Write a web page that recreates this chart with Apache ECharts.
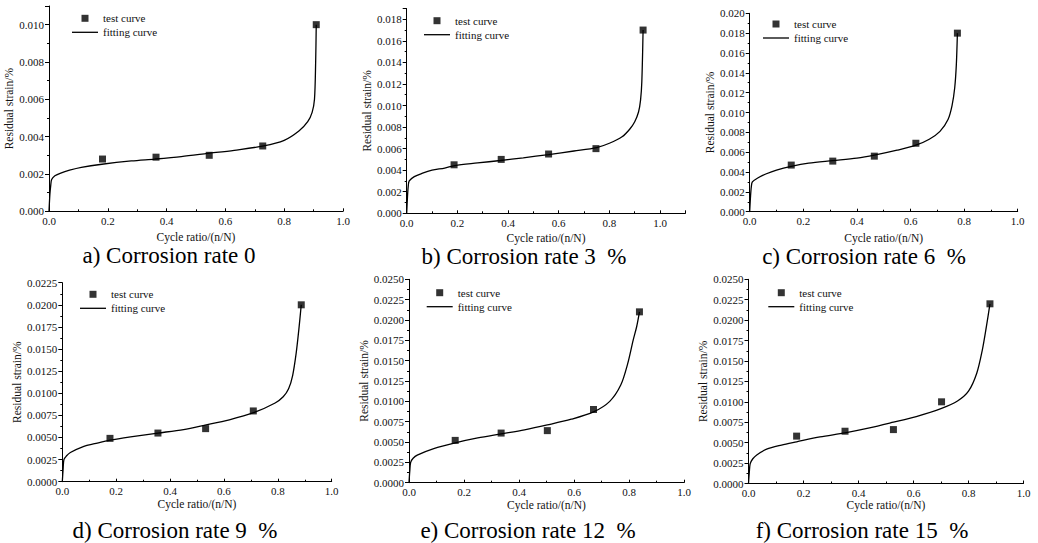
<!DOCTYPE html>
<html>
<head>
<meta charset="utf-8">
<script src="https://cdn.jsdelivr.net/npm/echarts@6/dist/echarts.min.js"></script>
<style>
  html, body { margin: 0; padding: 0; background: #ffffff; }
  #chart { width: 1038px; height: 543px; }
</style>
</head>
<body>
<div id="chart"></div>
<script>
// Panel captions
const captions = [
  'a) Corrosion rate 0',
  'b) Corrosion rate 3\u2002%',
  'c) Corrosion rate 6\u2002%',
  'd) Corrosion rate 9\u2002%',
  'e) Corrosion rate 12\u2002%',
  'f) Corrosion rate 15\u2002%'
];

// Axis ranges and tick steps per panel
const xMax = [1.0, 1.1, 1.0, 1.0, 1.0, 1.0];
const xStep = [0.2, 0.2, 0.2, 0.2, 0.2, 0.2];
const yMax = [0.011, 0.019, 0.020, 0.0225, 0.025, 0.025];
const yStep = [0.002, 0.002, 0.002, 0.0025, 0.0025, 0.0025];
const yDecimals = [3, 3, 3, 4, 4, 4];

// Measured residual strain, [cycle ratio, strain]
const testA = [[0.182, 0.0028], [0.364, 0.0029], [0.545, 0.0030], [0.727, 0.0035], [0.909, 0.0100]];
const testB = [[0.187, 0.0045], [0.373, 0.0050], [0.560, 0.0055], [0.747, 0.0060], [0.933, 0.0170]];
const testC = [[0.155, 0.0047], [0.310, 0.0051], [0.465, 0.0056], [0.620, 0.0069], [0.775, 0.0180]];
const testD = [[0.177, 0.0049], [0.355, 0.0055], [0.532, 0.0060], [0.709, 0.0080], [0.887, 0.0200]];
const testE = [[0.168, 0.0052], [0.335, 0.0061], [0.503, 0.0064], [0.671, 0.0090], [0.838, 0.0210]];
const testF = [[0.175, 0.0058], [0.351, 0.0064], [0.527, 0.0066], [0.702, 0.0100], [0.878, 0.0220]];

// Fitted strain curves, [cycle ratio, strain]
const fitA = [[0, 0], [0.003, 0.0009], [0.006, 0.0014], [0.009, 0.0017], [0.02, 0.0019], [0.04, 0.00205],
  [0.07, 0.0022], [0.11, 0.00235], [0.18, 0.00252], [0.28, 0.0027], [0.36, 0.0028], [0.45, 0.00293],
  [0.54, 0.0031], [0.63, 0.00327], [0.73, 0.0035], [0.80, 0.0038], [0.85, 0.0043], [0.88, 0.0048],
  [0.895, 0.0053], [0.903, 0.0060], [0.907, 0.0080], [0.909, 0.0100]];
const fitB = [[0, 0], [0.003, 0.0015], [0.006, 0.0025], [0.01, 0.0030], [0.03, 0.0034], [0.06, 0.0037],
  [0.10, 0.0040], [0.15, 0.0042], [0.19, 0.00443], [0.28, 0.00467], [0.37, 0.0049], [0.46, 0.00515],
  [0.56, 0.00545], [0.66, 0.00578], [0.75, 0.0061], [0.80, 0.0065], [0.85, 0.0071], [0.88, 0.0078],
  [0.90, 0.0085], [0.915, 0.0094], [0.923, 0.0105], [0.928, 0.0122], [0.933, 0.0170]];
const fitC = [[0, 0], [0.003, 0.0015], [0.006, 0.0025], [0.01, 0.0030], [0.03, 0.0034], [0.06, 0.0038],
  [0.10, 0.0042], [0.155, 0.00458], [0.22, 0.0049], [0.31, 0.00515], [0.40, 0.0054], [0.465, 0.0057],
  [0.55, 0.0062], [0.62, 0.0067], [0.67, 0.0073], [0.71, 0.0081], [0.74, 0.0093], [0.755, 0.0107],
  [0.765, 0.0125], [0.771, 0.0148], [0.775, 0.0180]];
const fitD = [[0, 0], [0.003, 0.0014], [0.006, 0.0025], [0.015, 0.0029], [0.03, 0.0033], [0.08, 0.0040],
  [0.12, 0.0043], [0.177, 0.0047], [0.26, 0.0051], [0.355, 0.0055], [0.45, 0.0059], [0.53, 0.0064],
  [0.62, 0.0070], [0.71, 0.0078], [0.79, 0.0089], [0.82, 0.0096], [0.84, 0.0105], [0.855, 0.0120],
  [0.868, 0.0145], [0.878, 0.0172], [0.887, 0.0200]];
const fitE = [[0, 0], [0.003, 0.0015], [0.006, 0.0025], [0.015, 0.0030], [0.03, 0.0034], [0.09, 0.0042],
  [0.168, 0.0049], [0.25, 0.0055], [0.335, 0.0060], [0.42, 0.0065], [0.503, 0.0071], [0.59, 0.0078],
  [0.671, 0.0087], [0.73, 0.0100], [0.77, 0.0120], [0.795, 0.0146], [0.815, 0.0175], [0.828, 0.0192],
  [0.838, 0.0210]];
const fitF = [[0, 0], [0.003, 0.0014], [0.006, 0.0024], [0.015, 0.0030], [0.03, 0.0035], [0.066, 0.0042],
  [0.12, 0.0047], [0.175, 0.0051], [0.26, 0.0057], [0.351, 0.0062], [0.44, 0.0068], [0.527, 0.0075],
  [0.61, 0.0082], [0.702, 0.0092], [0.76, 0.0101], [0.80, 0.0113], [0.83, 0.0135], [0.85, 0.0163],
  [0.865, 0.0192], [0.878, 0.0220]];

const testSets = [testA, testB, testC, testD, testE, testF];
const fitSets = [fitA, fitB, fitC, fitD, fitE, fitF];

// Page layout of the six panels (pixels)
const layout = [
  { grid: { left: 49,    top: 6,     width: 294,   height: 205.3 }, legend: [72, 12.8],     caption: [169, 255], yGap: 33, xGap: 20 },
  { grid: { left: 406.7, top: 8.5,   width: 278.7, height: 204.8 }, legend: [424, 15.2],    caption: [524, 256], yGap: 34, xGap: 19 },
  { grid: { left: 749.7, top: 13.3,  width: 268,   height: 198.4 }, legend: [763, 18.5],    caption: [864, 256], yGap: 32, xGap: 20 },
  { grid: { left: 62.3,  top: 282.7, width: 269.4, height: 199   }, legend: [80, 288.8],    caption: [175, 530], yGap: 38, xGap: 15 },
  { grid: { left: 409,   top: 279.3, width: 275,   height: 203.4 }, legend: [426.7, 287.2], caption: [528, 530], yGap: 38, xGap: 15 },
  { grid: { left: 748.5, top: 279.3, width: 275,   height: 204.2 }, legend: [768.3, 287.2], caption: [862, 530], yGap: 38, xGap: 15 }
];

const SERIF = '"Liberation Serif", "Times New Roman", serif';
const INK = '#111';

const isMultiple = (v, step) => Math.abs(v / step - Math.round(v / step)) < 1e-6;

const grids = [], xAxes = [], yAxes = [], series = [], legends = [], graphics = [];

layout.forEach((p, i) => {
  grids.push(Object.assign({ containLabel: false, outerBoundsMode: 'none' }, p.grid));

  xAxes.push({
    type: 'value', gridIndex: i, min: 0, max: xMax[i], interval: xStep[i],
    name: 'Cycle ratio/(n/N)', nameLocation: 'middle', nameGap: p.xGap,
    nameTextStyle: { fontFamily: SERIF, fontSize: 11.5, color: INK },
    axisLine: { show: true, onZero: false, lineStyle: { color: '#000', width: 1 } },
    axisTick: { show: true, inside: true, length: 3, lineStyle: { color: '#000', width: 1 } },
    minorTick: { show: true, splitNumber: 2, length: 2, lineStyle: { color: '#000', width: 1 } },
    splitLine: { show: false },
    minorSplitLine: { show: false },
    axisLabel: {
      margin: 4, fontFamily: SERIF, fontSize: 11, color: INK,
      showMaxLabel: isMultiple(xMax[i], xStep[i]), hideOverlap: false,
      formatter: v => v.toFixed(1)
    }
  });

  yAxes.push({
    type: 'value', gridIndex: i, min: 0, max: yMax[i], interval: yStep[i],
    name: 'Residual strain/%', nameLocation: 'middle', nameGap: p.yGap,
    nameTextStyle: { fontFamily: SERIF, fontSize: 11.5, color: INK },
    axisLine: { show: true, onZero: false, lineStyle: { color: '#000', width: 1 } },
    axisTick: { show: true, inside: false, length: 4, lineStyle: { color: '#000', width: 1 } },
    minorTick: { show: true, splitNumber: 2, length: 2, lineStyle: { color: '#000', width: 1 } },
    splitLine: { show: false },
    minorSplitLine: { show: false },
    axisLabel: {
      margin: 5, fontFamily: SERIF, fontSize: 11, color: INK,
      showMaxLabel: isMultiple(yMax[i], yStep[i]), hideOverlap: false,
      formatter: v => v.toFixed(yDecimals[i])
    }
  });

  series.push({
    name: 'fitting curve', type: 'line', xAxisIndex: i, yAxisIndex: i,
    data: fitSets[i], symbol: 'none', showSymbol: false, smooth: 0.3,
    lineStyle: { color: '#000', width: 1.3 }, itemStyle: { color: '#000' },
    silent: true, z: 2
  });
  series.push({
    name: 'test curve', type: 'scatter', xAxisIndex: i, yAxisIndex: i,
    data: testSets[i], symbol: 'rect', symbolSize: 7,
    itemStyle: { color: '#000' }, silent: true, z: 3
  });

  legends.push({
    left: p.legend[0], top: p.legend[1], orient: 'vertical', padding: 0,
    itemWidth: 26, itemHeight: 7, itemGap: 3, selectedMode: false,
    textStyle: { fontFamily: SERIF, fontSize: 11, color: INK, lineHeight: 11 },
    data: [
      { name: 'test curve', icon: 'path://M0,0H10V10H0Z' },
      { name: 'fitting curve', icon: 'path://M0,0H26V1.3H0Z' }
    ]
  });

  graphics.push({
    type: 'text', silent: true,
    style: {
      text: captions[i], x: p.caption[0], y: p.caption[1],
      font: '23px ' + SERIF, fill: '#000',
      textAlign: 'center', textVerticalAlign: 'middle'
    }
  });
});

const chart = echarts.init(document.getElementById('chart'), null, { renderer: 'svg' });
chart.setOption({
  backgroundColor: '#ffffff',
  animation: false,
  grid: grids,
  xAxis: xAxes,
  yAxis: yAxes,
  legend: legends,
  series: series,
  graphic: graphics
});
</script>
</body>
</html>
